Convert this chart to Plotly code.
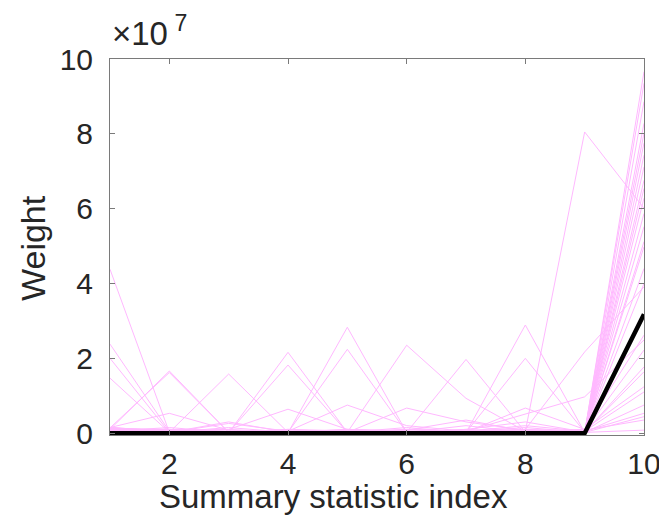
import plotly.graph_objects as go

SCALE = 1e7
x_index = [1, 2, 3, 4, 5, 6, 7, 8, 9, 10]

# Pink series (values in units of 1e7)
s01 = [0.12, 0.03, 0.02, 0.01, 0.02, 0.01, 0.03, 0.02, 0.01, 9.66]
s02 = [4.38, 0.02, 0.01, 0.02, 0.01, 0.02, 0.01, 0.03, 0.02, 9.35]
s03 = [0.10, 1.66, 0.02, 0.01, 0.03, 0.02, 0.01, 0.02, 0.01, 8.86]
s04 = [2.38, 0.05, 0.02, 0.01, 0.02, 0.01, 0.02, 0.01, 0.02, 8.28]
s05 = [0.08, 0.02, 0.01, 2.16, 0.02, 0.01, 0.02, 0.03, 0.01, 8.01]
s06 = [0.15, 0.02, 1.58, 0.02, 0.01, 0.03, 0.02, 0.01, 0.02, 7.75]
s07 = [0.05, 0.03, 0.02, 0.01, 2.83, 0.02, 0.01, 0.02, 0.01, 7.43]
s08 = [2.00, 0.02, 0.01, 0.02, 0.03, 0.01, 0.02, 0.01, 0.02, 7.12]
s09 = [0.12, 0.02, 0.03, 0.01, 0.02, 2.35, 0.93, 0.05, 0.02, 6.76]
s10 = [0.10, 0.01, 0.02, 0.03, 0.01, 0.02, 0.01, 2.89, 0.02, 6.54]
s11 = [0.14, 1.62, 0.02, 0.01, 0.02, 0.01, 0.03, 0.02, 0.01, 6.28]
s12 = [0.02, 0.03, 0.01, 0.02, 0.01, 0.02, 0.03, 0.05, 8.05, 6.01]
s13 = [1.47, 0.02, 0.01, 0.02, 0.01, 0.02, 1.97, 0.03, 0.02, 5.87]
s14 = [0.10, 0.03, 0.02, 1.82, 0.02, 0.01, 0.02, 0.01, 0.02, 5.52]
s15 = [0.12, 0.02, 0.01, 0.02, 2.24, 0.02, 0.01, 0.02, 0.01, 5.12]
s16 = [0.08, 0.02, 0.01, 0.02, 0.01, 0.03, 0.02, 2.00, 0.03, 4.98]
s17 = [0.15, 0.53, 0.08, 0.02, 0.05, 0.03, 0.02, 0.10, 0.05, 4.40]
s18 = [0.12, 0.02, 0.26, 0.05, 0.02, 0.67, 0.30, 0.08, 0.02, 4.00]
s19 = [0.10, 0.03, 0.02, 0.02, 0.02, 0.05, 0.05, 0.10, 2.17, 3.91]
s20 = [0.15, 0.05, 0.10, 0.64, 0.10, 0.05, 0.03, 0.67, 0.10, 2.62]
s21 = [0.10, 0.05, 0.03, 0.05, 0.75, 0.20, 0.05, 0.50, 0.97, 2.49]
s22 = [0.12, 0.10, 0.05, 0.02, 0.05, 0.02, 0.05, 0.20, 0.05, 2.22]
s23 = [0.05, 0.15, 0.02, 0.10, 0.02, 0.08, 0.35, 0.05, 0.02, 1.77]
s24 = [0.13, 0.02, 0.30, 0.02, 0.10, 0.02, 0.10, 0.30, 0.03, 1.64]
s25 = [0.08, 0.10, 0.02, 0.05, 0.02, 0.15, 0.02, 0.05, 0.10, 1.24]
s26 = [0.15, 0.05, 0.10, 0.02, 0.08, 0.02, 0.20, 0.02, 0.05, 1.10]
s27 = [0.10, 0.02, 0.05, 0.03, 0.02, 0.10, 0.05, 0.15, 0.02, 0.75]
s28 = [0.13, 0.08, 0.02, 0.10, 0.05, 0.02, 0.10, 0.02, 0.05, 0.53]
s29 = [0.05, 0.02, 0.15, 0.02, 0.10, 0.05, 0.02, 0.10, 0.02, 0.44]
s30 = [0.12, 0.05, 0.02, 0.08, 0.02, 0.10, 0.05, 0.02, 0.08, 0.35]
s31 = [0.10, 0.10, 0.05, 0.02, 0.05, 0.02, 0.08, 0.05, 0.02, 0.08]

black_line = [0, 0, 0, 0, 0, 0, 0, 0, 0, 3.18]

y_tick_vals = [0, 2, 4, 6, 8, 10]
y_tick_text = ["0", "2", "4", "6", "8", "10"]
x_tick_vals = [2, 4, 6, 8, 10]

pink_series = [s01, s02, s03, s04, s05, s06, s07, s08, s09, s10, s11, s12, s13,
               s14, s15, s16, s17, s18, s19, s20, s21, s22, s23, s24, s25, s26,
               s27, s28, s29, s30, s31]

PINK = "#FFB8FF"
FONT = "Liberation Sans"
TXT = "#262626"
AX = "#7a7a7a"

L, T = 110, 59
W, H = 659, 523
PW, PH = 534, 376

fig = go.Figure()
for s in pink_series:
    fig.add_trace(go.Scatter(x=x_index, y=[v * SCALE for v in s], mode="lines",
                             line=dict(color=PINK, width=1), showlegend=False,
                             hoverinfo="skip"))
fig.add_trace(go.Scatter(x=x_index, y=[v * SCALE for v in black_line], mode="lines",
                         line=dict(color="black", width=4.5), showlegend=False,
                         hoverinfo="skip"))

fig.update_layout(
    width=W, height=H, autosize=False,
    margin=dict(l=L, r=W - L - PW, t=T, b=H - T - PH, autoexpand=False),
    paper_bgcolor="white", plot_bgcolor="white",
    font=dict(family=FONT, color=TXT, size=30),
    hovermode=False,
    xaxis=dict(range=[1, 10], tickvals=x_tick_vals, ticks="inside", ticklen=5,
               tickcolor=AX, showline=True, linecolor=AX, linewidth=1,
               mirror="ticks", showgrid=False, zeroline=False,
               tickfont=dict(size=30, color=TXT), ticklabeloverflow="allow",
               ticklabelstandoff=2, automargin=False),
    yaxis=dict(range=[-0.05 * SCALE, 10 * SCALE],
               tickvals=[v * SCALE for v in y_tick_vals], ticktext=y_tick_text,
               ticks="inside", ticklen=5, tickcolor=AX, showline=True,
               linecolor=AX, linewidth=1, mirror="ticks", showgrid=False,
               zeroline=False, tickfont=dict(size=30, color=TXT),
               ticklabelstandoff=10, ticklabeloverflow="allow", automargin=False),
)

def px_to_paper_x(px):
    return (px - L) / PW

def px_to_paper_y(py):
    return (T + PH - py) / PH

fig.add_annotation(text="Summary statistic index", xref="paper", yref="paper",
                   x=px_to_paper_x(333), y=px_to_paper_y(497), xanchor="center",
                   yanchor="middle", showarrow=False,
                   font=dict(size=33, color=TXT, family=FONT))
fig.add_annotation(text="Weight", xref="paper", yref="paper",
                   x=px_to_paper_x(33), y=px_to_paper_y(248), xanchor="center",
                   yanchor="middle", textangle=-90, showarrow=False,
                   font=dict(size=34, color=TXT, family=FONT))
fig.add_annotation(text="×10<sup> 7</sup>", xref="paper", yref="paper",
                   x=px_to_paper_x(110), y=px_to_paper_y(54), xanchor="left",
                   yanchor="bottom", showarrow=False,
                   font=dict(size=33, color=TXT, family=FONT))

fig.write_html("out.html",
               config={"displayModeBar": False, "staticPlot": True},
               post_script="document.body.style.margin='0px';"
                           "document.body.style.overflow='hidden';")
